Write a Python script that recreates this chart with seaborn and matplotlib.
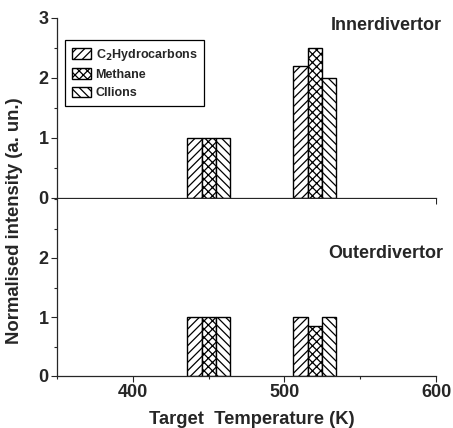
import matplotlib
matplotlib.use("Agg")
import matplotlib.pyplot as plt
from matplotlib.patches import Patch
from matplotlib.ticker import MultipleLocator
import pandas as pd
import seaborn as sns

# data
temps = [450, 520]
species = ["C$_2$Hydrocarbons", "Methane", "CIIions"]
hatches = ["////", "xxxx", "\\\\\\\\"]

inner_c2 = [1.0, 2.2]
inner_ch4 = [1.0, 2.5]
inner_cii = [1.0, 2.0]

outer_c2 = [1.0, 1.0]
outer_ch4 = [1.0, 0.85]
outer_cii = [1.0, 1.0]


def long_table(c2, ch4, cii):
    rows = []
    for sp, vals in zip(species, [c2, ch4, cii]):
        for t, v in zip(temps, vals):
            rows.append({"T": t, "species": sp, "I": v})
    return pd.DataFrame(rows)


sns.set_style("ticks")
plt.rcParams["font.family"] = ["Liberation Sans", "DejaVu Sans"]
plt.rcParams["font.weight"] = "bold"
plt.rcParams["hatch.linewidth"] = 0.9

fig = plt.figure(figsize=(4.53, 4.28), dpi=100)
left, width = 57 / 453, 379 / 453
ax_top = fig.add_axes([left, 230 / 428, width, 180 / 428])
ax_bot = fig.add_axes([left, 52 / 428, width, 177 / 428])

panels = [
    (ax_top, long_table(inner_c2, inner_ch4, inner_cii), "Innerdivertor", 2.88),
    (ax_bot, long_table(outer_c2, outer_ch4, outer_cii), "Outerdivertor", 2.08),
]

for ax, df, label, ty in panels:
    sns.barplot(data=df, x="T", y="I", hue="species", hue_order=species,
                native_scale=True, width=0.4, dodge=True, legend=False,
                palette=["white"] * 3, edgecolor="black",
                linewidth=1.0, ax=ax)
    for cont, h in zip(ax.containers, hatches):
        for p in cont:
            p.set_hatch(h)
            p.set_facecolor("white")
            p.set_edgecolor("black")
    ax.set_xlim(350, 600)
    ax.set_ylim(0, 3)
    ax.xaxis.set_major_locator(MultipleLocator(100))
    ax.xaxis.set_minor_locator(MultipleLocator(50))
    ax.yaxis.set_major_locator(MultipleLocator(1))
    ax.yaxis.set_minor_locator(MultipleLocator(0.5))
    ax.tick_params(which="major", length=4, width=0.8, labelsize=13, pad=2)
    ax.tick_params(which="minor", length=2.5, width=0.8)
    sns.despine(ax=ax)
    ax.set_xlabel("")
    ax.set_ylabel("")
    ax.text(567, ty, label, ha="center", va="center", fontsize=13,
            fontweight="bold", clip_on=False)
    for s in ["left", "bottom"]:
        ax.spines[s].set_linewidth(0.9)

ax_top.tick_params(axis="x", labelbottom=False)
ax_bot.set_yticks([0, 1, 2])

handles = [Patch(facecolor="white", edgecolor="black", hatch=h, label=s)
           for s, h in zip(species, hatches)]
leg = ax_top.legend(handles=handles, loc="upper left",
                    bbox_to_anchor=(0.021, 0.878), borderaxespad=0,
                    fancybox=False, framealpha=1, edgecolor="black",
                    prop={"size": 9, "weight": "bold"},
                    handlelength=1.5, handleheight=0.9, labelspacing=0.45,
                    handletextpad=0.4, borderpad=0.55)
leg.get_frame().set_linewidth(0.9)

fig.text(15 / 453, 1 - 221 / 428, "Normalised intensity (a. un.)",
         rotation=90, ha="center", va="center", fontsize=13.3, fontweight="bold")
fig.text(252 / 453, 1 - 419 / 428, "Target  Temperature (K)",
         ha="center", va="center", fontsize=13.2, fontweight="bold")

fig.savefig("out.png", dpi=100)
